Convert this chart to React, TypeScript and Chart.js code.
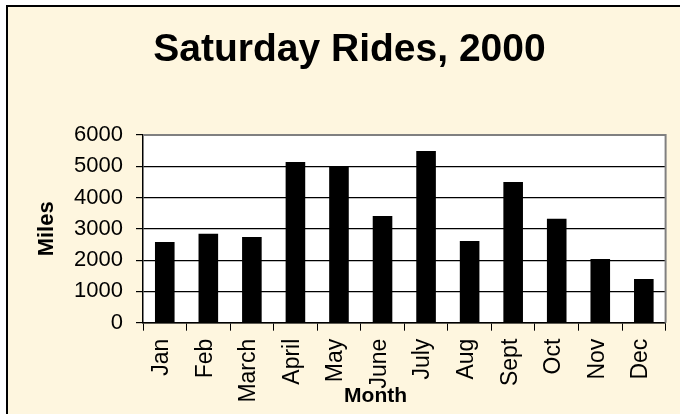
import React, { useEffect, useRef } from 'react';
import { Chart, registerables } from 'chart.js';

Chart.register(...registerables);

const TITLE = 'Saturday Rides, 2000';
const X_TITLE = 'Month';
const Y_TITLE = 'Miles';
const months = ['Jan', 'Feb', 'March', 'April', 'May', 'June', 'July', 'Aug', 'Sept', 'Oct', 'Nov', 'Dec'];
const miles = [2580, 2840, 2740, 5140, 5000, 3410, 5490, 2610, 4500, 3320, 2040, 1400];
const Y_MIN = 0;
const Y_MAX = 6000;
const Y_STEP = 1000;

const FONT = '"Liberation Sans", Arial, Helvetica, sans-serif';
const CREAM = '#FEF6DF';

export default function App() {
  const ref = useRef<HTMLCanvasElement>(null);

  useEffect(() => {
    if (!ref.current) return;

    const plotBg = {
      id: 'plotBg',
      beforeDraw(chart: any) {
        const { ctx, chartArea: a } = chart;
        ctx.save();
        ctx.fillStyle = '#ffffff';
        ctx.fillRect(a.left, a.top, a.right - a.left, a.bottom - a.top);
        ctx.restore();
      },
      afterDatasetsDraw(chart: any) {
        const { ctx, chartArea: a } = chart;
        ctx.save();
        ctx.strokeStyle = '#808080';
        ctx.lineWidth = 2;
        ctx.beginPath();
        ctx.moveTo(a.left, a.top);
        ctx.lineTo(a.right, a.top);
        ctx.lineTo(a.right, a.bottom);
        ctx.stroke();
        ctx.restore();
      },
    };

    const monthTitle = {
      id: 'monthTitle',
      afterDraw(chart: any) {
        const { ctx, chartArea: a } = chart;
        ctx.save();
        ctx.font = `bold 21px ${FONT}`;
        ctx.fillStyle = '#000';
        ctx.textAlign = 'center';
        ctx.textBaseline = 'alphabetic';
        ctx.fillText(X_TITLE, a.left + (a.right - a.left) * 0.445, a.bottom + 79);
        ctx.restore();
      },
    };

    const chart = new Chart(ref.current, {
      type: 'bar',
      data: {
        labels: months,
        datasets: [
          {
            label: 'Miles',
            data: miles,
            backgroundColor: '#000000',
            borderWidth: 0,
            barPercentage: 0.45,
            categoryPercentage: 1,
          },
        ],
      },
      options: {
        responsive: false,
        animation: false,
        layout: { padding: { left: 25, right: 14, top: 0, bottom: 0 } },
        plugins: {
          legend: { display: false },
          tooltip: { enabled: false },
          title: {
            display: true,
            text: TITLE,
            color: '#000',
            font: { family: FONT, size: 39, weight: 'bold', lineHeight: 1.2 },
            padding: { top: 19.6, bottom: 61.6 },
          },
        },
        scales: {
          x: {
            offset: true,
            grid: {
              display: true,
              offset: true,
              drawOnChartArea: false,
              drawTicks: true,
              tickLength: 8,
              color: '#000',
            },
            border: { display: true, color: '#000', width: 1.5 },
            ticks: {
              color: '#000',
              font: { family: FONT, size: 23 },
              minRotation: 90,
              maxRotation: 90,
              autoSkip: false,
              padding: 8,
              labelOffset: -3,
            },
            afterFit(scale: any) {
              scale.height = 91.3;
            },
          },
          y: {
            min: Y_MIN,
            max: Y_MAX,
            ticks: {
              stepSize: Y_STEP,
              color: '#000',
              font: { family: FONT, size: 22 },
              padding: 13,
              callback: (v: any) => String(v),
            },
            grid: {
              color: (c: any) => (c.tick && c.tick.value === Y_MAX ? 'rgba(0,0,0,0)' : '#000'),
              lineWidth: 1.2,
              tickLength: 7,
              tickColor: '#000',
            },
            border: { display: true, color: '#000', width: 1.5 },
            title: {
              display: true,
              text: Y_TITLE,
              color: '#000',
              font: { family: FONT, size: 22, weight: 'bold', lineHeight: 1.2 },
              padding: { top: 0.5, bottom: 0 },
            },
            afterFit(scale: any) {
              scale.width = 110;
            },
          },
        },
      },
      plugins: [plotBg, monthTitle],
    });

    return () => chart.destroy();
  }, []);

  return (
    <div
      style={{
        position: 'absolute',
        left: 6,
        top: 5,
        width: 674,
        height: 409,
        boxSizing: 'border-box',
        borderTop: '2px solid #000',
        borderLeft: '2px solid #000',
        background: CREAM,
        overflow: 'hidden',
      }}
    >
      <canvas ref={ref} width={672} height={407} style={{ display: 'block' }} />
    </div>
  );
}
